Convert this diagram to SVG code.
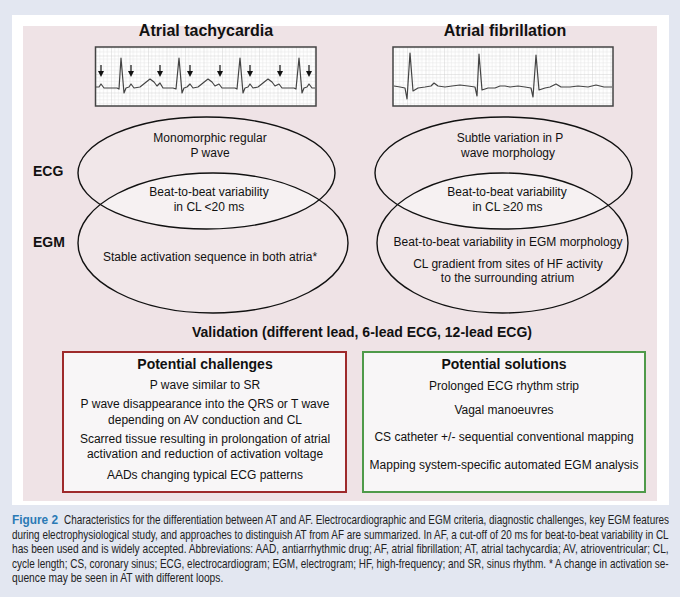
<svg xmlns="http://www.w3.org/2000/svg" width="680" height="597" viewBox="0 0 680 597">
<style>
text{font-family:"Liberation Sans",Arial,sans-serif;fill:#111}
.t{font-size:12px;text-anchor:middle}
.b{font-weight:bold}
.h{font-size:16px;font-weight:bold;text-anchor:middle}
.lbl{font-size:14px;font-weight:bold}
.bh{font-size:14px;font-weight:bold;text-anchor:middle}
.cap{font-size:12px;fill:#222}
.ell{fill:none;stroke:#111;stroke-width:1.4}
.wave{fill:none;stroke:#444;stroke-width:1.2;stroke-linejoin:round}
.strip{fill:url(#grid);stroke:#444;stroke-width:1.5}
.arr{stroke:#111;stroke-width:1.2;marker-end:url(#ah)}
</style>
<defs>
<pattern id="grid" x="0" y="0" width="18.5" height="18.5" patternUnits="userSpaceOnUse">
<rect width="18.5" height="18.5" fill="#fff"/>
<path d="M3.7 0V18.5M7.4 0V18.5M11.1 0V18.5M14.8 0V18.5M0 3.7H18.5M0 7.4H18.5M0 11.1H18.5M0 14.8H18.5" stroke="#e6e6e6" stroke-width="0.6"/>
<path d="M0 0V18.5M0 0H18.5" stroke="#c9c9c9" stroke-width="0.8"/>
</pattern>
<marker id="ah" markerWidth="6" markerHeight="6" refX="3" refY="3" orient="auto" markerUnits="userSpaceOnUse" viewBox="0 0 6 6">
<path d="M0,0 L6,3 L0,6 Z" fill="#111"/>
</marker>
<clipPath id="clipL"><ellipse cx="206.5" cy="173" rx="128.5" ry="56"/></clipPath>
<clipPath id="clipR"><ellipse cx="503.5" cy="173" rx="128.5" ry="56"/></clipPath>
</defs>

<rect width="680" height="597" fill="#e3e7f1"/>
<rect x="12" y="15" width="657" height="490" fill="#ffffff"/>
<rect x="23" y="26" width="634" height="475" fill="#efe3e6"/>

<g id="titles">
<text class="h" x="206" y="36">Atrial tachycardia</text>
<text class="h" x="505" y="36">Atrial fibrillation</text>
</g>

<g id="ecg-at">
<rect class="strip" x="95.5" y="47" width="220.5" height="59"/>
<polyline class="wave" points="96,87 99,87 101,84 104,88 117,88 119,89 121,58 124,93 126,88 129,87 131,84 134,88 140,87 145,83 150,79 154,82 157,86 160,83 163,88 173,88 176,89 179,58 182,93 184,88 187,87 190,84 193,88 198,87 203,83 208,79 212,82 215,86 219,84 222,88 235,88 237,89 240,58 243,93 245,88 248,87 250,84 253,88 258,87 263,83 268,79 272,82 275,86 279,84 282,88 294,88 296,89 299,58 302,93 304,88 307,87 309,84 312,88 315,88"/>
<g>
<line class="arr" x1="101" y1="65" x2="101" y2="74"/>
<line class="arr" x1="131" y1="65" x2="131" y2="74"/>
<line class="arr" x1="160" y1="65" x2="160" y2="74"/>
<line class="arr" x1="190" y1="65" x2="190" y2="74"/>
<line class="arr" x1="220" y1="65" x2="220" y2="74"/>
<line class="arr" x1="250" y1="65" x2="250" y2="74"/>
<line class="arr" x1="280" y1="65" x2="280" y2="74"/>
<line class="arr" x1="309" y1="65" x2="309" y2="74"/>
</g>
</g>

<g id="ecg-af">
<rect class="strip" x="393" y="47" width="220" height="59"/>
<polyline class="wave" points="394,86 400,87 405,88 407,99 410,53 413,91 418,88 425,87 431,86 434,83 438,86 445,87 452,86 460,85 468,86 475,87 477,96 479,54 482,90 488,88 495,88 500,86 505,86 510,87 518,86 525,87 531,88 533,97 536,55 539,90 545,88 550,87 556,84 561,87 570,87 578,86 588,87 596,85 604,87 612,87"/>
</g>

<g id="row-labels">
<text class="lbl" x="33" y="176">ECG</text>
<text class="lbl" x="33" y="247">EGM</text>
</g>

<g id="venn-at">
<ellipse cx="206.5" cy="173" rx="128.5" ry="56" fill="#f1e7e9"/>
<ellipse cx="213" cy="243" rx="135" ry="70" fill="#f1e7e9"/>
<ellipse cx="213" cy="243" rx="135" ry="70" fill="#f6f1f2" clip-path="url(#clipL)"/>
<ellipse class="ell" cx="206.5" cy="173" rx="128.5" ry="56"/>
<ellipse class="ell" cx="213" cy="243" rx="135" ry="70"/>
<text class="t" x="210" y="142">Monomorphic regular</text>
<text class="t" x="210" y="157">P wave</text>
<text class="t" x="209" y="196">Beat-to-beat variability</text>
<text class="t" x="209" y="211">in CL &lt;20 ms</text>
<text class="t" x="210" y="261">Stable activation sequence in both atria*</text>
</g>

<g id="venn-af">
<ellipse cx="503.5" cy="173" rx="128.5" ry="56" fill="#f1e7e9"/>
<ellipse cx="502.5" cy="243" rx="125.5" ry="70" fill="#f1e7e9"/>
<ellipse cx="502.5" cy="243" rx="125.5" ry="70" fill="#f6f1f2" clip-path="url(#clipR)"/>
<ellipse class="ell" cx="503.5" cy="173" rx="128.5" ry="56"/>
<ellipse class="ell" cx="502.5" cy="243" rx="125.5" ry="70"/>
<text class="t" x="510" y="142">Subtle variation in P</text>
<text class="t" x="508" y="157">wave morphology</text>
<text class="t" x="507" y="196">Beat-to-beat variability</text>
<text class="t" x="507.5" y="211">in CL  ≥20 ms</text>
<text class="t" x="508" y="246">Beat-to-beat variability in EGM morphology</text>
<text class="t" x="508" y="268">CL gradient from sites of HF activity</text>
<text class="t" x="507.5" y="282">to the surrounding atrium</text>
</g>

<g id="validation">
<text class="lbl" x="192" y="337">Validation (different lead, 6-lead ECG, 12-lead ECG)</text>
</g>

<g id="box-challenges">
<rect x="63" y="352" width="283" height="140" fill="#f8f6f7" stroke="#9e2a2b" stroke-width="2"/>
<text class="bh" x="205" y="369">Potential challenges</text>
<text class="t" x="205" y="389">P wave similar to SR</text>
<text class="t" x="205" y="408">P wave disappearance into the QRS or T wave</text>
<text class="t" x="205" y="423.5">depending on AV conduction and CL</text>
<text class="t" x="205" y="443">Scarred tissue resulting in prolongation of atrial</text>
<text class="t" x="205" y="457.5">activation and reduction of activation voltage</text>
<text class="t" x="205" y="479">AADs changing typical ECG patterns</text>
</g>

<g id="box-solutions">
<rect x="363" y="352" width="282" height="140" fill="#f8f6f7" stroke="#4f9a4a" stroke-width="2"/>
<text class="bh" x="504" y="369">Potential solutions</text>
<text class="t" x="504" y="390">Prolonged ECG rhythm strip</text>
<text class="t" x="504" y="414">Vagal manoeuvres</text>
<text class="t" x="504" y="441">CS catheter +/- sequential conventional mapping</text>
<text class="t" x="504" y="469">Mapping system-specific automated EGM analysis</text>
</g>

<g id="caption">
<text class="cap b" transform="translate(12,524) scale(0.8,1)" x="0" y="0" textLength="57.5" lengthAdjust="spacingAndGlyphs" style="fill:#2b7ab5;font-size:13px">Figure 2</text>
<text class="cap" transform="translate(64,524) scale(0.76,1)" x="0" y="0" textLength="796" lengthAdjust="spacingAndGlyphs">Characteristics for the differentiation between AT and AF. Electrocardiographic and EGM criteria, diagnostic challenges, key EGM features</text>
<text class="cap" transform="translate(12,538.5) scale(0.76,1)" x="0" y="0" textLength="864" lengthAdjust="spacingAndGlyphs">during electrophysiological study, and approaches to distinguish AT from AF are summarized. In AF, a cut-off of 20 ms for beat-to-beat variability in CL</text>
<text class="cap" transform="translate(12,553) scale(0.76,1)" x="0" y="0" textLength="864" lengthAdjust="spacingAndGlyphs">has been used and is widely accepted. Abbreviations: AAD, antiarrhythmic drug; AF, atrial fibrillation; AT, atrial tachycardia; AV, atrioventricular; CL,</text>
<text class="cap" transform="translate(12,567.5) scale(0.76,1)" x="0" y="0" textLength="864" lengthAdjust="spacingAndGlyphs">cycle length; CS, coronary sinus; ECG, electrocardiogram; EGM, electrogram; HF, high-frequency; and SR, sinus rhythm. * A change in activation se-</text>
<text class="cap" transform="translate(12,582) scale(0.76,1)" x="0" y="0" textLength="278" lengthAdjust="spacingAndGlyphs">quence may be seen in AT with different loops.</text>
</g>
</svg>
